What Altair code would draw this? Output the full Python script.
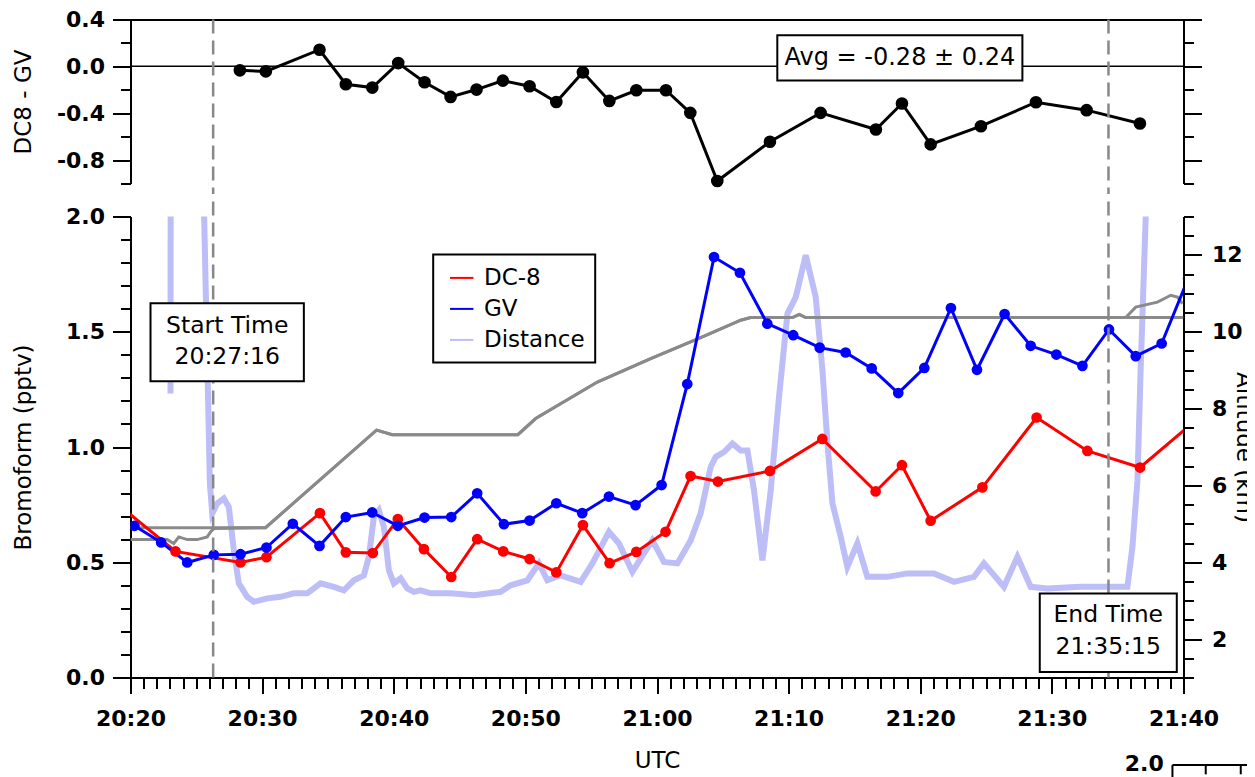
import altair as alt
import pandas as pd

FONT = "DejaVu Sans"

# ---------------- data (time = minutes after 20:20 UTC) ----------------
diff_t = [8.31, 10.28, 14.36, 16.36, 18.37, 20.34, 22.34, 24.32, 26.29, 28.29, 30.32, 32.35, 34.37, 36.38,
          38.43, 40.68, 42.53, 44.58, 48.58, 52.43, 56.63, 58.61, 60.79, 64.61, 68.79, 72.64, 76.69]
diff_v = [-0.034, -0.043, 0.142, -0.153, -0.181, 0.028, -0.136, -0.261, -0.198, -0.122, -0.170, -0.304, -0.051,
          -0.295, -0.204, -0.204, -0.397, -0.979, -0.644, -0.397, -0.539, -0.317, -0.666, -0.511, -0.306, -0.374, -0.488]

dc8_t = [-0.7, 3.42, 8.36, 10.33, 14.39, 16.36, 18.41, 20.31, 22.29, 24.37, 26.34, 28.32, 30.32, 32.35, 34.37,
         36.40, 38.43, 40.65, 42.55, 44.63, 48.58, 52.56, 56.61, 58.61, 60.79, 64.72, 68.84, 72.70, 76.70, 80.7]
dc8_v = [0.739, 0.547, 0.499, 0.522, 0.713, 0.543, 0.540, 0.687, 0.557, 0.436, 0.600, 0.547, 0.514, 0.456, 0.661,
         0.496, 0.545, 0.632, 0.874, 0.850, 0.896, 1.035, 0.807, 0.921, 0.680, 0.825, 1.128, 0.983, 0.911, 1.105]

gv_t = [0.30, 2.33, 4.31, 6.33, 8.36, 10.33, 12.33, 14.36, 16.36, 18.36, 20.31, 22.34, 24.37, 26.34, 28.37,
        30.32, 32.35, 34.32, 36.35, 38.37, 40.35, 42.30, 44.33, 46.30, 48.38, 50.35, 52.36, 54.33, 56.31, 58.33,
        60.31, 62.33, 64.31, 66.41, 68.39, 70.34, 72.32, 74.34, 76.37, 78.34, 80.35]
gv_v = [0.658, 0.586, 0.499, 0.532, 0.535, 0.564, 0.667, 0.571, 0.696, 0.716, 0.658, 0.694, 0.696, 0.799, 0.665,
        0.681, 0.756, 0.713, 0.785, 0.748, 0.835, 1.273, 1.824, 1.756, 1.535, 1.485, 1.431, 1.410, 1.341, 1.234,
        1.343, 1.603, 1.335, 1.577, 1.439, 1.401, 1.352, 1.510, 1.394, 1.449, 1.73]

alt1_t = [0, 10.26, 18.69, 19.89, 29.43, 30.78, 35.47, 39.52, 43.32, 46.36, 47.12, 50.3, 50.8, 51.3, 80]
alt1_km = [4.90, 4.90, 7.44, 7.32, 7.32, 7.74, 8.69, 9.30, 9.85, 10.30, 10.37, 10.37, 10.45, 10.37, 10.37]

alt2_t = [0, 2.79, 3.29, 3.67, 4.31, 5.07, 5.83, 6.08, 6.33, 10.26, 18.69, 19.89, 29.43, 30.78, 35.47, 39.52,
          43.32, 46.36, 47.12, 50.3, 50.8, 51.3, 75.61, 76.37, 78.02, 78.52, 79.03, 79.54, 79.92]
alt2_km = [4.59, 4.59, 4.49, 4.66, 4.59, 4.59, 4.66, 4.79, 4.88, 4.90, 7.44, 7.32, 7.32, 7.74, 8.69, 9.30,
           9.85, 10.30, 10.37, 10.37, 10.45, 10.37, 10.37, 10.64, 10.77, 10.86, 10.95, 10.90, 10.73]

dist1_t = [3.04, 3.05]
dist1_v = [8.39, 14.5]
dist2_t = [5.50, 5.87, 6.03, 6.21, 6.59, 7.09, 7.47, 7.85, 8.23, 8.87,
           9.37, 10.39, 11.40, 12.41, 13.43, 14.44, 15.45, 16.21, 16.97, 17.73,
           18.11, 18.49, 18.87, 19.25, 19.63, 20.01, 20.52, 21.03, 21.53, 22.04,
           22.80, 24.32, 26.09, 28.12, 28.88, 30.15, 31.03, 31.67, 32.68, 34.20,
           35.09, 36.35, 37.11, 38.13, 39.01, 39.65, 40.53, 41.55, 42.56, 43.32,
           44.08, 44.46, 45.09, 45.73, 46.36, 46.87, 47.37, 48.01, 48.64, 49.27,
           49.91, 50.54, 51.30, 52.06, 52.57, 52.95, 53.33, 53.96, 54.46, 55.22,
           55.98, 57.50, 59.02, 61.05, 62.56, 64.08, 64.84, 66.36, 67.38, 68.39,
           69.66, 72.19, 75.74, 76.12, 76.50, 76.75, 77.13, 77.30]
dist2_v = [14.5, 8.65, 6.05, 5.27, 5.53, 5.66, 5.44, 4.31, 3.45, 3.10,
           2.97, 3.06, 3.10, 3.19, 3.19, 3.45, 3.36, 3.27, 3.53, 3.66,
           4.14, 5.18, 5.35, 4.92, 3.79, 3.45, 3.58, 3.32, 3.23, 3.27,
           3.19, 3.19, 3.14, 3.23, 3.40, 3.53, 3.97, 3.53, 3.66, 3.49,
           3.97, 4.79, 4.49, 3.75, 4.23, 4.57, 4.01, 3.97, 4.57, 5.28,
           6.48, 6.74, 6.87, 7.09, 6.91, 6.91, 5.87, 4.05, 5.87, 8.30,
           10.47, 10.90, 11.99, 10.90, 9.00, 7.09, 5.53, 4.66, 3.88, 4.49,
           3.62, 3.62, 3.71, 3.71, 3.49, 3.62, 3.97, 3.36, 4.14, 3.36,
           3.32, 3.36, 3.36, 4.40, 6.13, 9.08, 12.99, 14.5]

marker_t = [6.28, 74.30]  # dashed start / end lines

series_names = ["DC-8", "GV", "Distance"]
series_colors = ["#ff0000", "#0000ff", "#bdbdf7"]

x_ticks = list(range(0, 81))
top_ticks = [-1.0, -0.8, -0.6, -0.4, -0.2, 0.0, 0.2, 0.4]
bro_ticks = [0.0, 0.1, 0.2, 0.3, 0.4, 0.5, 0.6, 0.7, 0.8, 0.9, 1.0, 1.1, 1.2, 1.3, 1.4, 1.5, 1.6, 1.7,
             1.8, 1.9, 2.0]
alt_ticks = [1, 1.5, 2, 2.5, 3, 3.5, 4, 4.5, 5, 5.5, 6, 6.5, 7, 7.5, 8, 8.5, 9, 9.5, 10, 10.5, 11, 11.5,
             12, 12.5, 13]

avg_text = "Avg = -0.28 ± 0.24"
start_text = ["Start Time", "20:27:16"]
end_text = ["End Time", "21:35:15"]
frag_text = ["2.0"]

# ---------------- tables ----------------
df_diff = pd.DataFrame({"t": diff_t, "v": diff_v})
df_zero = pd.DataFrame({"t": [0], "t2": [80], "v": [0.0]})
df_top_mark = pd.DataFrame({"t": marker_t, "v": [0.4, 0.4], "v2": [-1.09, -1.09]})
df_avg_box = pd.DataFrame({"t": [49.14], "t2": [67.76], "v": [0.266], "v2": [-0.120]})
df_avg_txt = pd.DataFrame({"t": [58.45], "v": [0.072], "label": [avg_text]})

df_conc = pd.concat([
    pd.DataFrame({"t": dc8_t, "b": dc8_v, "series": "DC-8"}),
    pd.DataFrame({"t": gv_t, "b": gv_v, "series": "GV"}),
], ignore_index=True)
df_dist = pd.concat([
    pd.DataFrame({"t": dist1_t, "a": dist1_v, "seg": "s1", "series": "Distance"}),
    pd.DataFrame({"t": dist2_t, "a": dist2_v, "seg": "s2", "series": "Distance"}),
], ignore_index=True)
df_alt = pd.concat([
    pd.DataFrame({"t": alt1_t, "a": alt1_km, "plane": "p1"}),
    pd.DataFrame({"t": alt2_t, "a": alt2_km, "plane": "p2"}),
], ignore_index=True)
df_bot_mark = pd.DataFrame({"t": marker_t, "b": [0.0, 0.0], "b2": [2.082, 2.082]})
df_start_box = pd.DataFrame({"t": [1.52], "t2": [13.17], "b": [1.624], "b2": [1.285]})
df_start_txt = pd.DataFrame({"t": [7.35, 7.35], "b": [1.527, 1.390], "label": start_text})
df_end_box = pd.DataFrame({"t": [69.08], "t2": [79.49], "b": [0.364], "b2": [0.024]})
df_end_txt = pd.DataFrame({"t": [74.28, 74.28], "b": [0.270, 0.133], "label": end_text})
df_frag_txt = pd.DataFrame({"t": [77.02], "b": [-0.376], "label": frag_text})
df_frag_h = pd.DataFrame({"t": [79.16], "t2": [90.0], "b": [-0.380]})
df_frag_v = pd.DataFrame({"t": [79.16, 81.69, 84.35], "b": [-0.380, -0.380, -0.380], "b2": [-0.50, -0.42, -0.42]})

# ---------------- scales & axes ----------------
X_SCALE = alt.Scale(domain=[0, 80], nice=False, zero=False)
TOP_Y = alt.Scale(domain=[-1.0, 0.4], nice=False, zero=False)
BRO_Y = alt.Scale(domain=[0, 2.0], nice=False, zero=False)
ALT_Y = alt.Scale(domain=[1, 13], nice=False, zero=False)

W = 1053
H_TOP = 164
H_BOT = 461

top_x_axis = alt.Axis(orient="top", labels=False, ticks=False, domain=True, title=None, grid=False)

top_major = "round(datum.value * 10) % 4 == 0"
top_left_axis = alt.Axis(
    orient="left", values=top_ticks, grid=False, labelOverlap=False,
    labelExpr=f"{top_major} ? (datum.value < 0 ? '-' : '') + format(abs(datum.value), '.1f') : ''",
    tickSize={"condition": {"test": top_major, "value": 18}, "value": 10},
    labelPadding=8, title="DC8 - GV", titleAngle=-90, titleX=-107, titleY=H_TOP / 2,
    titleAlign="center", titleBaseline="middle")
top_right_axis = alt.Axis(
    orient="right", values=top_ticks, grid=False, labels=False, title=None,
    tickSize={"condition": {"test": top_major, "value": 18}, "value": 10})

bot_x_major = "datum.value % 10 == 0"
bot_x_axis = alt.Axis(
    orient="bottom", values=x_ticks, grid=False, labelOverlap=False, labelFlush=False,
    labelExpr=(f"{bot_x_major} ? (20 + floor((20 + datum.value) / 60)) + ':' + "
               "(((20 + datum.value) % 60) < 10 ? '0' : '') + ((20 + datum.value) % 60) : ''"),
    tickSize={"condition": {"test": bot_x_major, "value": 16}, "value": 11},
    labelPadding=15, title="UTC", titleX=W / 2, titleY=90, titleAlign="center",
    titleBaseline="alphabetic")

bro_major = "round(datum.value * 10) % 5 == 0"
bro_axis = alt.Axis(
    orient="left", values=bro_ticks, grid=False, labelOverlap=False,
    labelExpr=f"{bro_major} ? format(datum.value, '.1f') : ''",
    tickSize={"condition": {"test": bro_major, "value": 18}, "value": 10},
    labelPadding=8, title="Bromoform (pptv)", titleAngle=-90, titleX=-107, titleY=H_BOT / 2,
    titleAlign="center", titleBaseline="middle")

alt_major = "round(datum.value * 2) % 4 == 0"
alt_axis = alt.Axis(
    orient="right", values=alt_ticks, grid=False, labelOverlap=False,
    labelExpr=f"{alt_major} ? '' + datum.value : ''",
    tickSize={"condition": {"test": alt_major, "value": 18}, "value": 10},
    labelPadding=10, title="Altitude (km)", titleAngle=90, titleX=60, titleY=H_BOT / 2,
    titleAlign="center", titleBaseline="middle")

COLOR = alt.Color("series:N", scale=alt.Scale(domain=series_names, range=series_colors),
                  legend=alt.Legend(title=None, orient="none", legendX=302.7, legendY=234.9,
                                    symbolType="stroke", symbolSize=550, symbolStrokeWidth=2,
                                    symbolOffset=5,
                                    labelFont=FONT, labelFontSize=23, labelFontWeight="normal",
                                    labelColor="black", strokeColor="black", fillColor="white",
                                    padding=10.5, rowPadding=6, labelOffset=9.3))
COLOR_NOLEG = alt.Color("series:N", scale=alt.Scale(domain=series_names, range=series_colors), legend=None)


def tx(f="t"):
    return alt.X(f"{f}:Q", scale=X_SCALE, axis=top_x_axis)


def ty(f="v"):
    return alt.Y(f"{f}:Q", scale=TOP_Y, axis=top_left_axis)


def bx(f="t"):
    return alt.X(f"{f}:Q", scale=X_SCALE, axis=bot_x_axis)


def by(f="b"):
    return alt.Y(f"{f}:Q", scale=BRO_Y, axis=bro_axis)


def ay(f="a"):
    return alt.Y(f"{f}:Q", scale=ALT_Y, axis=alt_axis)


DASH = dict(color="#888888", strokeWidth=2.5, strokeDash=[14, 7])

# ---------------- top panel ----------------
zero_line = alt.Chart(df_zero).mark_rule(color="black", strokeWidth=1.5).encode(
    x=tx(), x2="t2:Q", y=alt.Y("v:Q", scale=TOP_Y, axis=top_right_axis))
diff_line = alt.Chart(df_diff).mark_line(color="black", strokeWidth=3).encode(x=tx(), y=ty())
diff_pts = alt.Chart(df_diff).mark_circle(color="black", size=160, opacity=1).encode(x=tx(), y=ty())
top_marks = alt.Chart(df_top_mark).mark_rule(**DASH).encode(x=tx(), y=ty(), y2="v2:Q")
avg_box = alt.Chart(df_avg_box).mark_rect(fill="white", stroke="black", strokeWidth=2).encode(
    x=tx(), x2="t2:Q", y=ty(), y2="v2:Q")
avg_txt = alt.Chart(df_avg_txt).mark_text(font=FONT, fontSize=24, color="black", align="center",
                                          baseline="middle").encode(x=tx(), y=ty(), text="label:N")

top_left = alt.layer(diff_line, diff_pts, top_marks, avg_box, avg_txt)
top = alt.layer(zero_line, top_left).resolve_axis(y="independent").properties(width=W, height=H_TOP)

# ---------------- bottom panel ----------------
dist_line = alt.Chart(df_dist).mark_line(strokeWidth=6, clip=True).encode(
    x=bx(), y=ay(), color=COLOR, detail="seg:N")
alt_lines = alt.Chart(df_alt).mark_line(color="#8a8a8a", strokeWidth=3, clip=True).encode(
    x=bx(), y=ay(), detail="plane:N")
right = alt.layer(dist_line, alt_lines)

conc_lines = alt.Chart(df_conc).mark_line(strokeWidth=3, clip=True).encode(x=bx(), y=by(), color=COLOR)
conc_pts = alt.Chart(df_conc).mark_circle(size=115, opacity=1, clip=True).encode(
    x=bx(), y=by(), color=COLOR_NOLEG)
bot_marks = alt.Chart(df_bot_mark).mark_rule(**DASH).encode(x=bx(), y=by(), y2="b2:Q")
start_box = alt.Chart(df_start_box).mark_rect(fill="white", stroke="black", strokeWidth=2).encode(
    x=bx(), x2="t2:Q", y=by(), y2="b2:Q")
start_txt = alt.Chart(df_start_txt).mark_text(font=FONT, fontSize=23.5, color="black", align="center",
                                              baseline="middle").encode(x=bx(), y=by(), text="label:N")
end_box = alt.Chart(df_end_box).mark_rect(fill="white", stroke="black", strokeWidth=2).encode(
    x=bx(), x2="t2:Q", y=by(), y2="b2:Q")
end_txt = alt.Chart(df_end_txt).mark_text(font=FONT, fontSize=23.5, color="black", align="center",
                                          baseline="middle").encode(x=bx(), y=by(), text="label:N")
frag_txt = alt.Chart(df_frag_txt).mark_text(font=FONT, fontSize=22, fontWeight="bold", color="black",
                                            align="center", baseline="middle").encode(
    x=bx(), y=by(), text="label:N")
frag_h = alt.Chart(df_frag_h).mark_rule(color="black", strokeWidth=2).encode(x=bx(), x2="t2:Q", y=by())
frag_v = alt.Chart(df_frag_v).mark_rule(color="black", strokeWidth=2).encode(x=bx(), y=by(), y2="b2:Q")

left = alt.layer(conc_lines, conc_pts, bot_marks, start_box, start_txt, end_box, end_txt,
                 frag_txt, frag_h, frag_v)
bottom = alt.layer(right, left).resolve_scale(y="independent").properties(width=W, height=H_BOT)

chart = alt.vconcat(top, bottom, spacing=0).properties(
    padding={"left": 3.5, "top": 0.5, "right": -69.5, "bottom": -16}
).configure(font=FONT).configure_view(stroke=None).configure_axis(
    domainColor="black", domainWidth=2, tickColor="black", tickWidth=2, labelColor="black",
    labelFont=FONT, labelFontSize=22, labelFontWeight="bold", titleFont=FONT, titleFontSize=23,
    titleFontWeight="normal", titleColor="black", grid=False
).configure_legend(strokeWidth=2)

chart.save("out.html", embed_options={"renderer": "svg", "actions": False})
